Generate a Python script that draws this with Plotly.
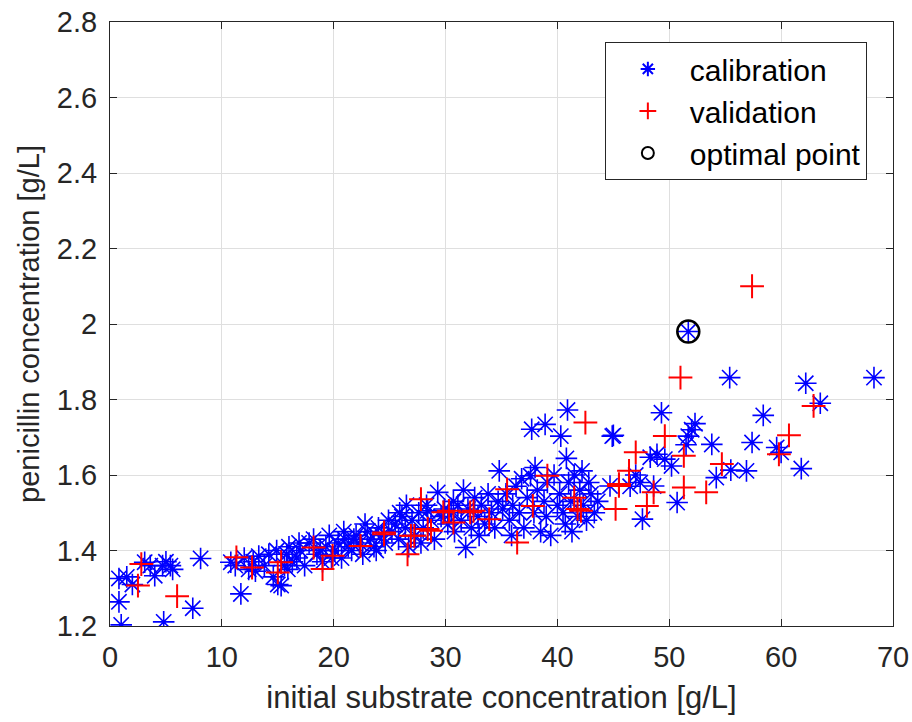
import plotly.graph_objects as go

# ---- data ----
cal_x = [0.8, 0.8, 1.0, 2.0, 1.5, 3.1, 4.0, 4.7, 5.4, 5.6, 4.8, 7.4, 8.1, 3.6, 5.0,
         10.8, 11.7, 11.2, 12.0, 12.8, 13.3, 13.8, 14.2, 14.6, 15.0, 14.9, 12.4, 13.0,
         15.3, 15.6, 15.8, 16.0, 16.3, 16.7, 17.0, 17.4, 17.8, 18.2, 18.5, 19.0, 19.3, 19.6, 15.9, 16.9, 18.8, 19.8,
         20.1, 20.4, 20.7, 21.0, 21.3, 21.6, 22.0, 22.3, 22.6, 23.0, 23.3, 23.6, 24.0, 24.3, 24.6, 24.9, 21.8, 23.8, 22.8, 20.9,
         25.2, 25.5, 25.8, 26.1, 26.4, 26.7, 27.0, 27.3, 27.6, 28.0, 28.3, 28.4, 28.7, 29.0, 29.3, 29.6, 29.9, 25.9, 27.8, 26.5,
         30.2, 30.5, 30.8, 31.1, 31.4, 31.8, 32.0, 32.3, 32.6, 32.9, 33.2, 33.5, 33.8, 34.1, 34.4, 34.8, 34.7, 30.7, 31.6, 33.0,
         35.1, 35.4, 35.7, 36.0, 36.3, 36.6, 37.0, 37.3, 37.6, 37.7, 37.9, 38.2, 38.5, 38.9, 38.8, 39.1, 39.4, 39.7, 40.0, 36.8, 38.0, 39.0, 35.9,
         40.3, 40.9, 40.8, 40.2, 40.5, 40.7, 41.0, 41.2, 41.5, 41.8, 42.2, 42.0, 42.3, 42.6, 43.0, 43.3, 41.3, 42.8, 44.9, 44.7, 43.6,
         45.0, 47.6, 48.3, 48.9, 49.6, 49.3, 47.4, 48.6, 46.5, 47.0,
         50.2, 50.7, 51.7, 52.3, 52.0, 51.5, 53.8, 54.2, 55.5, 55.4, 56.9, 57.4, 58.4, 59.6, 60.0, 61.8, 62.2, 63.5, 68.3, 51.7]
cal_y = [1.326, 1.264, 1.203, 1.31, 1.33, 1.369, 1.333, 1.36, 1.36, 1.35, 1.211, 1.247, 1.379, 1.36, 1.37,
         1.369, 1.285, 1.36, 1.38, 1.37, 1.385, 1.36, 1.39, 1.33, 1.31, 1.40, 1.35, 1.345,
         1.307, 1.36, 1.39, 1.41, 1.37, 1.38, 1.40, 1.36, 1.42, 1.43, 1.39, 1.37, 1.41, 1.44, 1.35, 1.42, 1.40, 1.38,
         1.40, 1.42, 1.38, 1.43, 1.41, 1.40, 1.44, 1.42, 1.39, 1.45, 1.43, 1.41, 1.46, 1.44, 1.42, 1.48, 1.43, 1.40, 1.47, 1.45,
         1.45, 1.47, 1.43, 1.49, 1.46, 1.41, 1.48, 1.44, 1.50, 1.46, 1.52, 1.505, 1.48, 1.43, 1.554, 1.49, 1.51, 1.50, 1.42, 1.52,
         1.47, 1.50, 1.45, 1.52, 1.48, 1.408, 1.51, 1.46, 1.54, 1.49, 1.52, 1.47, 1.55, 1.50, 1.46, 1.611, 1.53, 1.53, 1.56, 1.44,
         1.51, 1.55, 1.48, 1.52, 1.57, 1.50, 1.46, 1.54, 1.598, 1.721, 1.50, 1.56, 1.45, 1.734, 1.53, 1.58, 1.44, 1.60, 1.52, 1.59, 1.62, 1.49, 1.44,
         1.703, 1.772, 1.644, 1.55, 1.50, 1.47, 1.58, 1.53, 1.60, 1.49, 1.611, 1.56, 1.52, 1.48, 1.55, 1.50, 1.45, 1.58, 1.703, 1.571, 1.53,
         1.705, 1.483, 1.647, 1.655, 1.642, 1.765, 1.58, 1.571, 1.57, 1.60,
         1.624, 1.527, 1.703, 1.736, 1.72, 1.68, 1.681, 1.593, 1.613, 1.858, 1.611, 1.686, 1.758, 1.673, 1.66, 1.617, 1.843, 1.79, 1.858, 1.98]

val_x = [2.5, 2.8, 6.0, 11.3, 12.7, 15.3, 15.0, 18.2, 19.0, 19.9, 22.4, 24.5, 24.5, 26.6, 26.9, 27.2, 28.4, 28.7,
         27.8, 29.8, 30.7, 32.2, 33.9, 35.5, 36.4, 37.8, 39.1, 41.5, 42.1, 41.8, 42.5, 45.5, 45.2, 45.5, 46.4, 47.0,
         48.0, 48.6, 49.6, 51.0, 51.3, 51.3, 53.3, 54.7, 57.4, 59.8, 60.7, 62.9, 30.3, 32.5]
val_y = [1.307, 1.364, 1.279, 1.382, 1.355, 1.369, 1.342, 1.408, 1.351, 1.386, 1.412, 1.443, 1.448, 1.39, 1.439, 1.439, 1.457, 1.452,
         1.536, 1.501, 1.474, 1.501, 1.483, 1.562, 1.421, 1.518, 1.598, 1.54, 1.505, 1.51, 1.739, 1.576, 1.51, 1.571, 1.611, 1.66,
         1.518, 1.554, 1.703, 1.858, 1.651, 1.567, 1.554, 1.629, 2.10, 1.655, 1.705, 1.783, 1.505, 1.505]

opt_x = [51.7]
opt_y = [1.98]

x_ticks = [0, 10, 20, 30, 40, 50, 60, 70]
y_ticks = [1.2, 1.4, 1.6, 1.8, 2.0, 2.2, 2.4, 2.6, 2.8]
y_tick_text = ["1.2", "1.4", "1.6", "1.8", "2", "2.2", "2.4", "2.6", "2.8"]

FONT = "Liberation Sans, Arial, sans-serif"
INK = "rgb(38,38,38)"
GRID = "rgb(223,223,223)"

fig = go.Figure()
fig.add_trace(go.Scatter(
    x=cal_x, y=cal_y, mode="markers", name="calibration",
    marker=dict(symbol="asterisk-open", size=18, color="rgb(0,0,255)",
                line=dict(color="rgb(0,0,255)", width=1.6)),
))
fig.add_trace(go.Scatter(
    x=val_x, y=val_y, mode="markers", name="validation",
    marker=dict(symbol="cross-thin-open", size=17, color="rgb(255,0,0)",
                line=dict(color="rgb(255,0,0)", width=2)),
))
fig.add_trace(go.Scatter(
    x=opt_x, y=opt_y, mode="markers", name="optimal point",
    marker=dict(symbol="circle-open", size=22, color="black",
                line=dict(color="black", width=2.5)),
))

axis_common = dict(
    showline=True, linecolor=INK, linewidth=1, mirror="ticks",
    ticks="inside", ticklen=7, tickcolor=INK, tickwidth=1,
    showgrid=True, gridcolor=GRID, gridwidth=1, zeroline=False,
    tickfont=dict(family=FONT, size=29, color=INK), automargin=False,
)

fig.update_xaxes(range=[0, 70], tickvals=x_ticks, ticklabelstandoff=5,
                 title=dict(text="initial substrate concentration [g/L]",
                            font=dict(family=FONT, size=31, color=INK), standoff=14),
                 **axis_common)
fig.update_yaxes(range=[1.2, 2.8], tickvals=y_ticks, ticktext=y_tick_text, ticklabelstandoff=6,
                 title=dict(text="penicillin concentration [g/L]",
                            font=dict(family=FONT, size=29, color=INK), standoff=8),
                 **axis_common)

fig.update_layout(
    width=912, height=722,
    margin=dict(l=110, r=19, t=22, b=96),
    paper_bgcolor="white", plot_bgcolor="white",
    font=dict(family=FONT, color=INK),
    legend=dict(x=0.632, y=0.967, xanchor="left", yanchor="top",
                bgcolor="white", bordercolor=INK, borderwidth=1,
                font=dict(family=FONT, size=30, color="black"),
                itemsizing="constant", itemwidth=74, tracegroupgap=0),
    showlegend=True,
)

fig.write_html("out.html")
